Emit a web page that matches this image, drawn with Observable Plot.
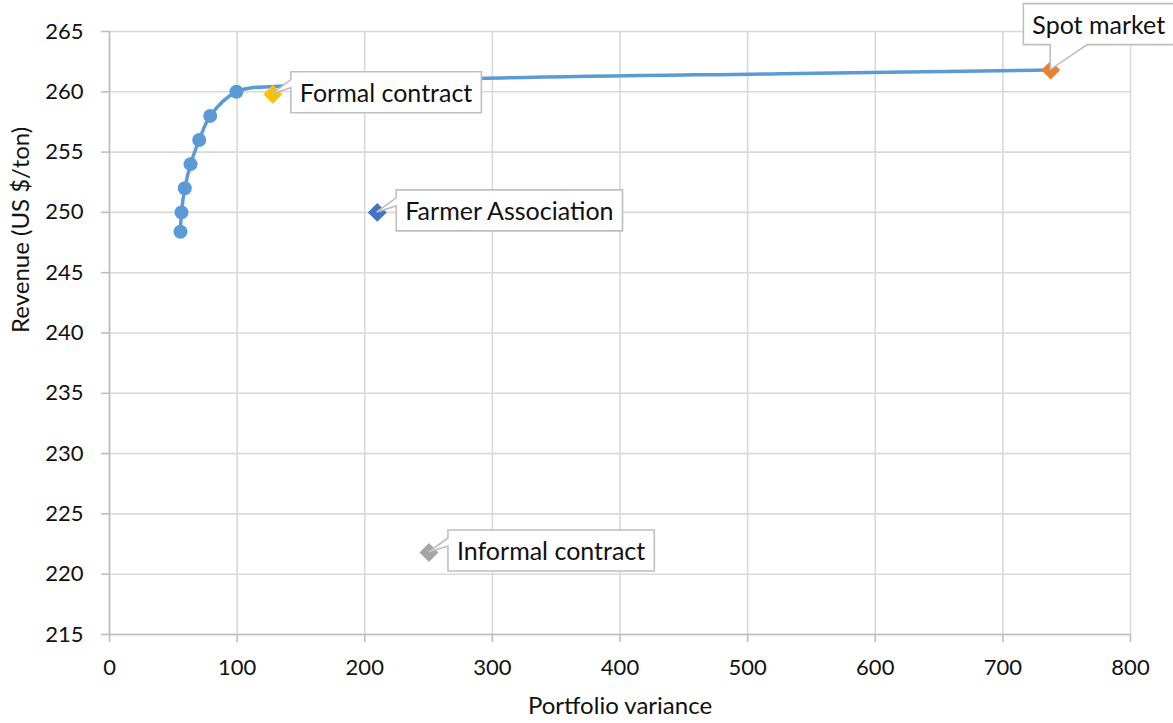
<!DOCTYPE html>
<html><head><meta charset="utf-8">
<script src="https://cdn.jsdelivr.net/npm/d3@7"></script>
<script src="https://cdn.jsdelivr.net/npm/@observablehq/plot@0.6"></script>
<style>body{margin:0;background:#fff;} #chart svg{display:block;}</style>
</head><body><div id="chart"></div>
<script>
// Efficient frontier points (with markers)
const frontierVar = [55.6, 56.4, 59, 63.5, 70.3, 78.9, 99.5];
const frontierRev = [248.4, 250, 252, 254, 256, 258, 260];
// Frontier continuation (line only)
const tailVar = [139, 290, 526, 737.5];
const tailRev = [260.5, 261.1, 261.5, 261.8];
// Marketing strategies
const strategyNames = ["Formal contract", "Farmer Association", "Informal contract", "Spot market"];
const strategyVar = [128, 209.8, 250.3, 737.5];
const strategyRev = [259.8, 250.0, 221.8, 261.8];
const strategyColors = ["#ffc000", "#4472c4", "#a5a5a5", "#ed7d31"];
// Ticks
const xTicks = [0, 100, 200, 300, 400, 500, 600, 700, 800];
const yTicks = [215, 220, 225, 230, 235, 240, 245, 250, 255, 260, 265];
const xTitle = "Portfolio variance";
const yTitle = "Revenue (US $/ton)";

// label placement styles
const calloutStyle = [
  {dx: 27, dy: 0, anchor: "start", side: "left"},
  {dx: 28, dy: 0, anchor: "start", side: "left"},
  {dx: 28, dy: 0, anchor: "start", side: "left"},
  {dx: 48, dy: -44, anchor: "middle", side: "bottom"}
];

const frontier = frontierVar.map((v, i) => ({x: v, y: frontierRev[i]}));
const line = frontier.concat(tailVar.map((v, i) => ({x: v, y: tailRev[i]})));
const strategies = strategyNames.map((n, i) => ({name: n, x: strategyVar[i], y: strategyRev[i], color: strategyColors[i]}));

const FONT = "Lato, 'Open Sans', sans-serif";
const grid = "#d9d9d9";

const chart = Plot.plot({
  width: 1173, height: 723,
  marginLeft: 109, marginRight: 43, marginTop: 31, marginBottom: 89,
  style: {fontFamily: FONT, fontSize: "22px", color: "#111", background: "#fff"},
  x: {domain: [0, 800]},
  y: {domain: [215, 265]},
  marks: [
    Plot.gridX(xTicks, {stroke: grid, strokeOpacity: 1, strokeWidth: 1.6}),
    Plot.gridY(yTicks, {stroke: grid, strokeOpacity: 1, strokeWidth: 1.6}),
    Plot.ruleX([0], {stroke: "#bfbfbf", strokeWidth: 1.6}),
    Plot.ruleY([215], {stroke: "#bfbfbf", strokeWidth: 1.6}),
    Plot.axisX(xTicks, {label: null, tickSize: 8, tickPadding: 17, stroke: "#bfbfbf", strokeWidth: 1.6, fill: "#111"}),
    Plot.axisY(yTicks, {label: null, tickSize: 8, tickPadding: 18, stroke: "#bfbfbf", strokeWidth: 1.6, fill: "#111"}),
    Plot.text([xTitle], {frameAnchor: "bottom", dy: 79, text: d => d, fill: "#111", fontSize: 24}),
    Plot.text([yTitle], {frameAnchor: "left", dx: -88, rotate: -90, text: d => d, fill: "#111", fontSize: 24}),
    Plot.line(line, {x: "x", y: "y", stroke: "#5b9bd5", strokeWidth: 3.5, curve: "catmull-rom"}),
    Plot.dot(frontier, {x: "x", y: "y", r: 7, fill: "#5b9bd5", stroke: "none"}),
    Plot.dot(strategies, {x: "x", y: "y", symbol: "diamond2", r: 8.5, fill: "color", stroke: "none"}),
    ...strategies.map((d, i) => Plot.text([d], {
      x: "x", y: "y", text: "name", dx: calloutStyle[i].dx, dy: calloutStyle[i].dy,
      textAnchor: calloutStyle[i].anchor, fill: "#111", fontSize: 25
    }))
  ]
});
document.getElementById("chart").appendChild(chart);

// Draw callout boxes behind the label texts
const svgRect = chart.getBoundingClientRect();
const xs = chart.scale("x"), ys = chart.scale("y");
const allTexts = Array.from(chart.querySelectorAll("text"));
const layer = document.createElementNS("http://www.w3.org/2000/svg", "g");
strategies.forEach((d, i) => {
  const t = allTexts.find(el => el.textContent === d.name);
  if (!t) return;
  const b = t.getBoundingClientRect();
  const x0 = b.left - svgRect.left - 9, x1 = b.right - svgRect.left + 9;
  const cy = (b.top + b.bottom) / 2 - svgRect.top;
  const y0 = cy - 20.5, y1 = cy + 20.5;
  const tx = xs.apply(d.x), ty = ys.apply(d.y);
  let p;
  if (calloutStyle[i].side === "left") {
    p = `M${x0},${y0}H${x1}V${y1}H${x0}V${y0 + 16}L${tx},${ty}L${x0},${y0 + 8}Z`;
  } else {
    p = `M${x0},${y0}H${x1}V${y1}H${tx + 37}L${tx},${ty}L${tx},${y1}H${x0}Z`;
  }
  const path = document.createElementNS("http://www.w3.org/2000/svg", "path");
  path.setAttribute("d", p);
  path.setAttribute("fill", "#fff");
  path.setAttribute("stroke", "#bfbfbf");
  path.setAttribute("stroke-width", "1.6");
  layer.appendChild(path);
});
// insert the box layer just before the first callout text group
const firstText = allTexts.find(el => el.textContent === strategies[0].name);
const firstGroup = firstText ? firstText.closest("g") : null;
if (firstGroup && firstGroup.parentNode === chart) chart.insertBefore(layer, firstGroup);
else chart.appendChild(layer);
</script>
</body></html>
